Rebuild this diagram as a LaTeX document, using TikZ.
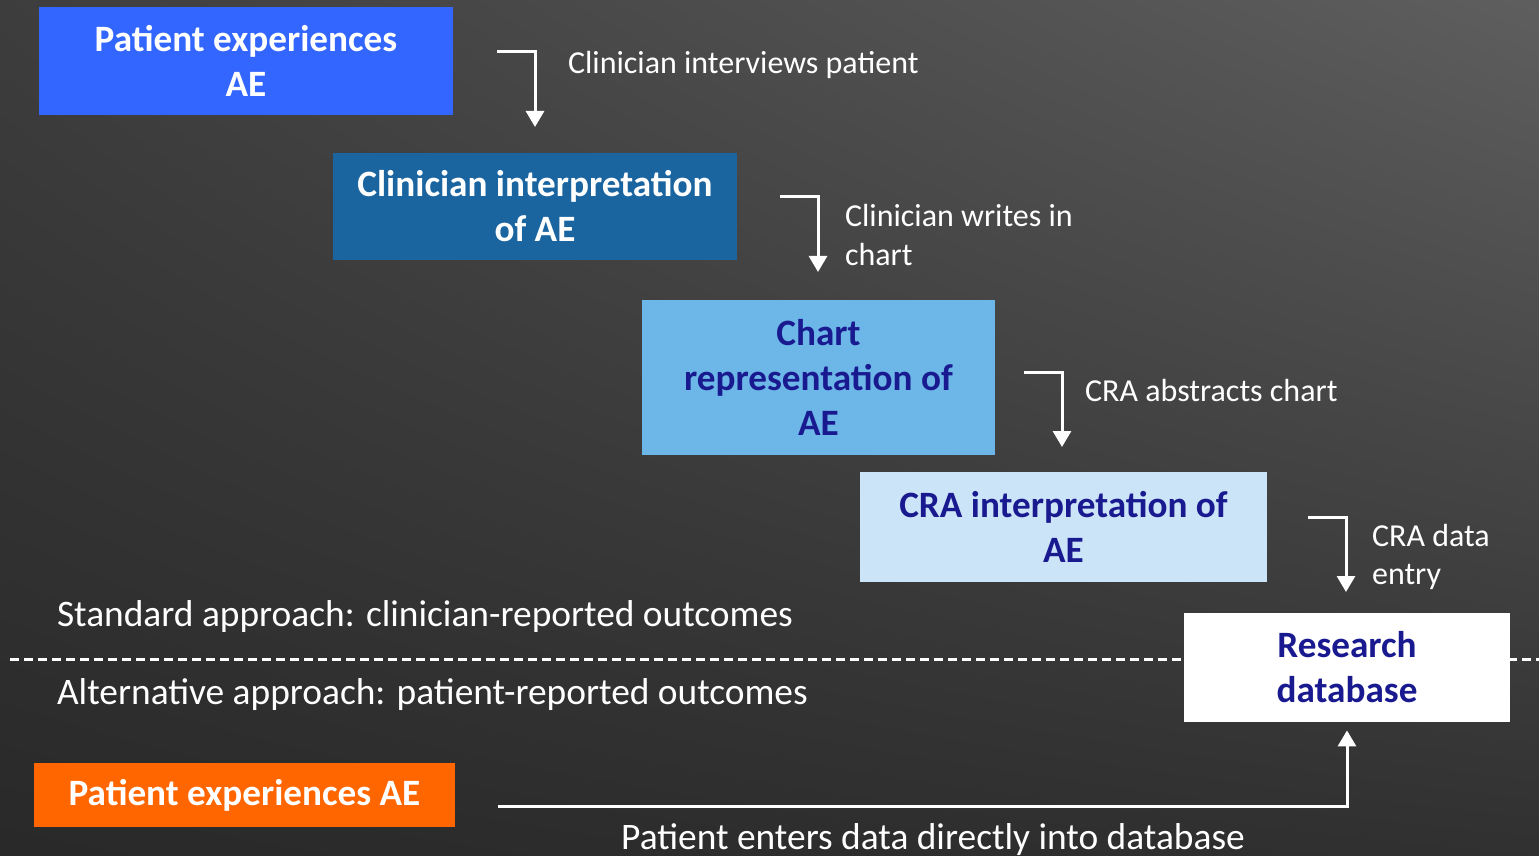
\documentclass[tikz,border=0pt]{standalone}
\usepackage{fontspec}
\setmainfont{Carlito}
\usetikzlibrary{arrows.meta, shadings}
\definecolor{aeblue}{HTML}{3366FF}
\definecolor{clinblue}{HTML}{1A64A0}
\definecolor{chartblue}{HTML}{6CB6E8}
\definecolor{crablue}{HTML}{CCE4F7}
\definecolor{inkblue}{HTML}{1A1A90}
\definecolor{aeorange}{HTML}{FF6600}
\tikzstyle{stage} = [rectangle, inner sep=0, align=center, font=\fontsize{18.6}{22.5}\selectfont\bfseries]
\tikzstyle{steplabel} = [text=white, anchor=west, align=left, font=\fontsize{16}{19.2}\selectfont]
\tikzstyle{approach} = [text=white, anchor=west, font=\fontsize{18.7}{22}\selectfont]
\tikzstyle{arrow} = [white, line width=1.5pt, -{Triangle[width=9pt,length=8pt]}]

\begin{document}
\begin{tikzpicture}[x=0.5pt,y=-0.5pt]
\useasboundingbox (0,0) rectangle (1539,856);
\clip (0,0) rectangle (1539,856);
\shade[upper left=black!76, upper right=black!63, lower left=black!84, lower right=black!81] (0,0) rectangle (1539,856);

% dividing line
\draw[white, line width=1.5pt, dash pattern=on 4.5pt off 2.5pt] (10,659) -- (1539,659);

% standard approach
\node[stage, fill=aeblue, text=white, minimum width=207pt, minimum height=54pt] (pae) at (246,61) {Patient experiences\\AE};
\node[stage, fill=clinblue, text=white, minimum width=202pt, minimum height=53.5pt] (clin) at (535,206.5) {Clinician interpretation\\of AE};
\node[stage, fill=chartblue, text=inkblue, minimum width=176.5pt, minimum height=77.5pt] (chart) at (818.5,377.5) {Chart\\representation of\\AE};
\node[stage, fill=crablue, text=inkblue, minimum width=203.5pt, minimum height=55pt] (cra) at (1063.5,527) {CRA interpretation of\\AE};
\node[stage, fill=white, text=inkblue, minimum width=163pt, minimum height=54.5pt] (db) at (1347,667.5) {Research\\database};

\coordinate (s1) at (497,52);  \coordinate (e1) at (535,127);
\coordinate (s2) at (780,197); \coordinate (e2) at (818,272);
\coordinate (s3) at (1024,372); \coordinate (e3) at (1062,447);
\coordinate (s4) at (1308,517); \coordinate (e4) at (1346,592);
\draw[arrow] (s1) -| (e1);
\draw[arrow] (s2) -| (e2);
\draw[arrow] (s3) -| (e3);
\draw[arrow] (s4) -| (e4);
\node[steplabel] (l1) at (561,65) {Clinician interviews patient};
\node[steplabel] (l2) at (838,235) {Clinician writes in\\chart};
\node[steplabel] (l3) at (1078,391) {CRA abstracts chart};
\node[steplabel] (l4) at (1365,557) {CRA data\\entry};

\node[approach] (std) at (50,617) {Standard approach: clinician-reported outcomes};
\node[approach] (alt) at (50,695) {Alternative approach: patient-reported outcomes};

% alternative approach
\node[stage, fill=aeorange, text=white, minimum width=210.5pt, minimum height=32pt] (pae2) at (244.5,795) {Patient experiences AE};
\coordinate (s5) at (498,806);
\draw[arrow] (s5) -| ([yshift=-4pt]db.south);
\node[approach, anchor=center] (l5) at (933,840) {Patient enters data directly into database};
\end{tikzpicture}
\end{document}
